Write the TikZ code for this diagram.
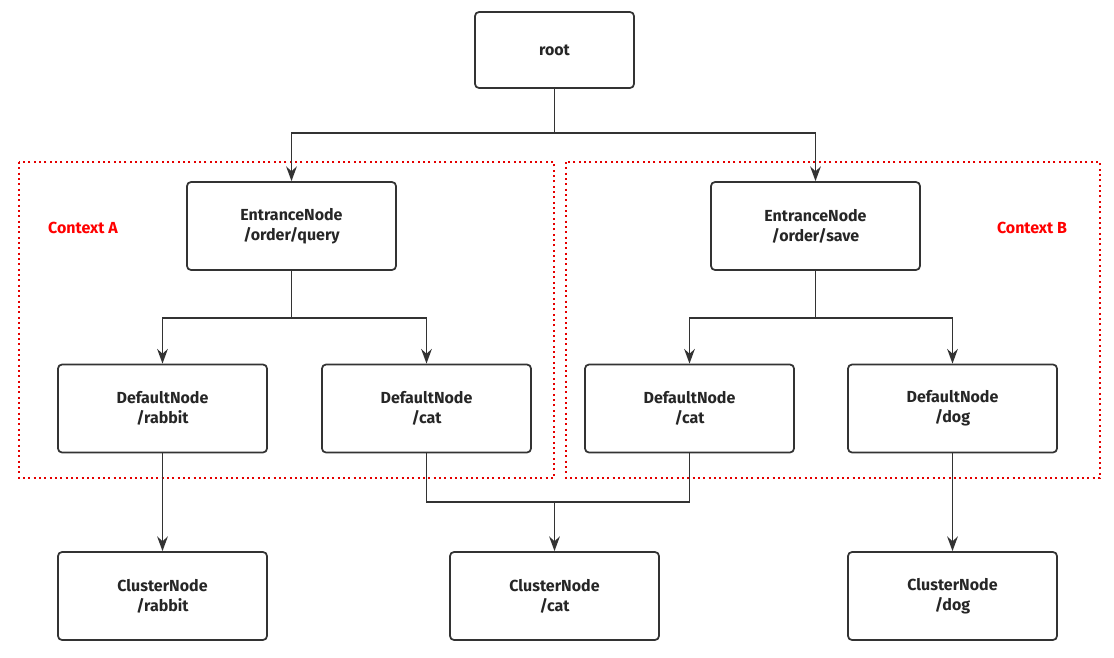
\documentclass[tikz,border=0pt]{standalone}
\usepackage{fontspec}
\setmainfont{Fira Sans}
\usetikzlibrary{arrows.meta}
\begin{document}
\begin{tikzpicture}[x=0.75pt,y=-0.75pt,
  box/.style={draw=black!80,line width=1.3pt,rounded corners=3pt,minimum width=209*0.75pt,minimum height=88*0.75pt,align=center,font=\fontsize{12}{15}\selectfont\bfseries,text=black!85},
  ctx/.style={draw=red!90!black,line width=1.4pt,dash pattern=on 1.5pt off 2.5pt},
  ctxl/.style={text=red,font=\fontsize{12}{14}\selectfont\bfseries},
  conn/.style={draw=black!80,line width=1.3pt},
  arr/.style={conn,-{Stealth[length=11pt,width=8pt]}}]
\useasboundingbox (0,0) rectangle (1114,657);
\draw[ctx] (19,162) rectangle (554,478);
\draw[ctx] (566,162) rectangle (1100,478);
\node[ctxl] (ca) at (83,228) {Context A};
\node[ctxl] (cb) at (1032,228) {Context B};
\node[box,minimum width=159*0.75pt,minimum height=76*0.75pt] (root) at (554.5,50) {root};
\node[box] (ea) at (291.5,226) {EntranceNode\\/order/query};
\node[box] (eb) at (815.5,226) {EntranceNode\\/order/save};
\node[box] (dr) at (162.5,408.5) {DefaultNode\\/rabbit};
\node[box] (dca) at (426.5,408.5) {DefaultNode\\/cat};
\node[box] (dcb) at (689.5,408.5) {DefaultNode\\/cat};
\node[box] (dd) at (952.5,408.5) {DefaultNode\\/dog};
\node[box] (cr) at (162.5,596) {ClusterNode\\/rabbit};
\node[box] (cc) at (554.5,596) {ClusterNode\\/cat};
\node[box] (cd) at (952.5,596) {ClusterNode\\/dog};
\coordinate (j1) at (554.5,133);
\coordinate (j2) at (291.5,318);
\coordinate (j3) at (815.5,318);
\coordinate (j4) at (554.5,502);
\draw[conn] (root.south) -- (j1);
\draw[arr] (j1) -| (ea.north);
\draw[arr] (j1) -| (eb.north);
\draw[conn] (ea.south) -- (j2);
\draw[arr] (j2) -| (dr.north);
\draw[arr] (j2) -| (dca.north);
\draw[conn] (eb.south) -- (j3);
\draw[arr] (j3) -| (dcb.north);
\draw[arr] (j3) -| (dd.north);
\draw[arr] (dr.south) -- (cr.north);
\draw[arr] (dd.south) -- (cd.north);
\draw[conn] (dca.south) |- (j4);
\draw[conn] (dcb.south) |- (j4);
\draw[arr] (j4) -- (cc.north);
\end{tikzpicture}
\end{document}
